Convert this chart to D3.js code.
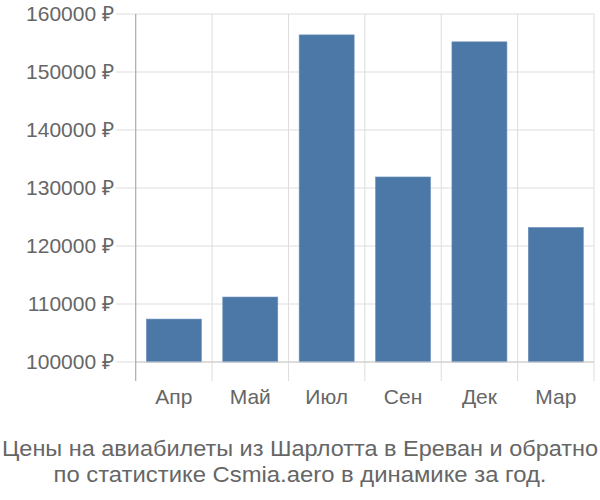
<!DOCTYPE html>
<html>
<head>
<meta charset="utf-8">
<script src="https://cdn.jsdelivr.net/npm/d3@7"></script>
<style>
body { margin: 0; background: #fff; }
svg { display: block; font-family: "Liberation Sans", Arial, sans-serif; }
</style>
</head>
<body>
<div id="chart"></div>
<script>
const months = ["Апр", "Май", "Июл", "Сен", "Дек", "Мар"];
const prices = [107400, 111200, 156400, 131900, 155200, 123200];
const yTicks = [100000, 110000, 120000, 130000, 140000, 150000, 160000];
const titleLines = [
    "Цены на авиабилеты из Шарлотта в Ереван и обратно",
    "по статистике Csmia.aero в динамике за год."
];
const titleWidths = [596, 493];

const width = 600, height = 500;
const margin = { top: 14, right: 6, bottom: 138, left: 135.7 };

const svg = d3.select("#chart").append("svg")
    .attr("width", width)
    .attr("height", height);

const x = d3.scaleBand()
    .domain(months)
    .range([margin.left, width - margin.right])
    .paddingInner(0.28)
    .paddingOuter(0.14);

const y = d3.scaleLinear()
    .domain([100000, 160000])
    .range([height - margin.bottom, margin.top]);

const step = x.step();
const bandStart = m => x(m) - x.paddingOuter() * step;
const axisY = y(100000);

// horizontal grid + ticks
svg.append("g")
    .selectAll("line")
    .data(yTicks)
    .join("line")
    .attr("x1", 116)
    .attr("x2", width - margin.right)
    .attr("y1", d => y(d))
    .attr("y2", d => y(d))
    .attr("stroke", "#ddd")
    .attr("stroke-width", 1);

// vertical grid at band boundaries
const bounds = months.map(bandStart).concat([width - margin.right]);
svg.append("g")
    .selectAll("line")
    .data(bounds.slice(1))
    .join("line")
    .attr("x1", d => d)
    .attr("x2", d => d)
    .attr("y1", margin.top)
    .attr("y2", axisY + 19)
    .attr("stroke", "#ddd")
    .attr("stroke-width", 1);

// bars
svg.append("g")
    .selectAll("rect")
    .data(prices)
    .join("rect")
    .attr("x", (d, i) => x(months[i]))
    .attr("width", x.bandwidth())
    .attr("y", d => y(d))
    .attr("height", d => axisY - y(d))
    .attr("fill", "#4c78a8")
    .attr("stroke", "#6a8fba")
    .attr("stroke-width", 0.6);

// bottom axis line
svg.append("line")
    .attr("x1", margin.left)
    .attr("x2", width - margin.right)
    .attr("y1", axisY)
    .attr("y2", axisY)
    .attr("stroke", "#ccc");

// left axis line
svg.append("line")
    .attr("x1", margin.left)
    .attr("x2", margin.left)
    .attr("y1", margin.top)
    .attr("y2", axisY + 19)
    .attr("stroke", "#aaa")
    .attr("stroke-width", 1.2);

// y labels
svg.append("g")
    .selectAll("text")
    .data(yTicks)
    .join("text")
    .attr("x", 114)
    .attr("y", d => y(d))
    .attr("dy", "0.35em")
    .attr("text-anchor", "end")
    .attr("font-size", 21)
    .attr("fill", "#666")
    .text(d => d + " ₽");

// x labels
svg.append("g")
    .selectAll("text")
    .data(months)
    .join("text")
    .attr("x", d => x(d) + x.bandwidth() / 2)
    .attr("y", axisY + 35)
    .attr("dy", "0.35em")
    .attr("text-anchor", "middle")
    .attr("font-size", 21)
    .attr("fill", "#666")
    .text(d => d);

// title
svg.append("g")
    .selectAll("text")
    .data(titleLines)
    .join("text")
    .attr("x", width / 2)
    .attr("y", (d, i) => 448 + i * 26)
    .attr("dy", "0.35em")
    .attr("text-anchor", "middle")
    .attr("font-size", 22)
    .attr("textLength", (d, i) => titleWidths[i])
    .attr("lengthAdjust", "spacingAndGlyphs")
    .attr("fill", "#666")
    .text(d => d);
</script>
</body>
</html>
